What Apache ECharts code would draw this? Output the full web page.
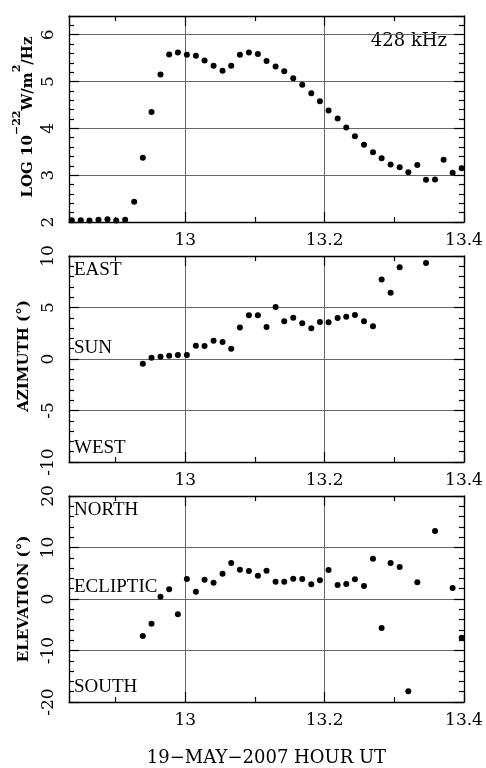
<!DOCTYPE html>
<html>
<head>
<meta charset="utf-8">
<script src="https://cdn.jsdelivr.net/npm/echarts@6/dist/echarts.min.js"></script>
<style>html,body{margin:0;padding:0;background:#fff}#c{width:486px;height:768px}</style>
</head>
<body>
<div id="c"></div>
<script>
// ---- data (hours UT) ----
const topHours = [12.8373,12.8502,12.8627,12.8756,12.8885,12.9010,12.9139,12.9268,12.9392,12.9517,12.9646,12.9770,12.9895,13.0024,13.0153,13.0278,13.0407,13.0536,13.0660,13.0785,13.0914,13.1043,13.1167,13.1297,13.1421,13.1550,13.1679,13.1809,13.1933,13.2057,13.2187,13.2311,13.2435,13.2565,13.2694,13.2818,13.2947,13.3077,13.3201,13.3330,13.3455,13.3584,13.3708,13.3837,13.3967];
const topLog = [2.04,2.04,2.03,2.05,2.06,2.03,2.05,2.43,3.37,4.35,5.15,5.58,5.62,5.57,5.55,5.45,5.34,5.23,5.34,5.57,5.62,5.59,5.44,5.32,5.22,5.07,4.93,4.75,4.58,4.38,4.21,4.02,3.83,3.65,3.49,3.36,3.23,3.17,3.06,3.22,2.90,2.91,3.33,3.05,3.15];

const aziHours = [12.9392,12.9517,12.9646,12.9770,12.9895,13.0024,13.0153,13.0278,13.0407,13.0536,13.0660,13.0785,13.0914,13.1043,13.1167,13.1297,13.1421,13.1550,13.1679,13.1809,13.1933,13.2057,13.2187,13.2311,13.2435,13.2565,13.2694,13.2818,13.2947,13.3077,13.3455];
const aziDeg = [-0.45,0.13,0.23,0.32,0.39,0.39,1.29,1.26,1.78,1.65,1.00,3.07,4.24,4.24,3.11,5.05,3.66,4.01,3.46,2.98,3.59,3.56,3.98,4.11,4.27,3.66,3.17,7.73,6.44,8.90,9.32];

const eleHours = [12.9392,12.9517,12.9646,12.9770,12.9895,13.0024,13.0153,13.0278,13.0407,13.0536,13.0660,13.0785,13.0914,13.1043,13.1167,13.1297,13.1421,13.1550,13.1679,13.1809,13.1933,13.2057,13.2187,13.2311,13.2435,13.2565,13.2694,13.2818,13.2947,13.3077,13.3201,13.3330,13.3584,13.3837,13.3967];
const eleDeg = [-7.18,-4.79,0.45,1.88,-2.98,3.88,1.42,3.75,3.17,4.92,6.99,5.70,5.44,4.53,5.50,3.37,3.37,3.95,3.88,2.85,3.62,5.63,2.72,2.91,3.82,2.52,7.83,-5.63,6.99,6.21,-17.93,3.24,13.20,2.14,-7.51];

// ---- tick labels ----
const xTickLabels = [13, 13.2, 13.4];
const yTicksTop = [2, 3, 4, 5, 6];
const yTicksAzi = [-10, -5, 0, 5, 10];
const yTicksEle = [-20, -10, 0, 10, 20];

const xMin = 12.8333, xMax = 13.4;

const FONT = 'DejaVu Serif';
const ANN = 'Liberation Serif';

const grids = [16, 256, 496].map(t => ({left: 69, right: 22, top: t, height: 206}));

function axLine() { return {show: true, onZero: false, lineStyle: {color: '#000', width: 1.3}}; }
function tick() { return {show: true, inside: true, length: 10, lineStyle: {color: '#000', width: 1.2}}; }
function mtick(n) { return {show: true, splitNumber: n, length: 5, lineStyle: {color: '#000', width: 1.2}}; }

function xAxes(gi) {
  const bottom = {
    type: 'value', gridIndex: gi, min: xMin, max: xMax, splitNumber: 3, position: 'bottom',
    axisLine: axLine(), axisTick: tick(), minorTick: mtick(2),
    splitLine: {show: true, lineStyle: {color: '#666', width: 1}},
    axisLabel: {customValues: xTickLabels, margin: 10, color: '#000', fontFamily: FONT, fontSize: 17}
  };
  const top = {
    type: 'value', gridIndex: gi, min: xMin, max: xMax, splitNumber: 3, position: 'top',
    axisLine: axLine(), axisTick: tick(), minorTick: mtick(2),
    splitLine: {show: false}, axisLabel: {show: false}
  };
  return [bottom, top];
}
function yAxes(gi, min, max, labels) {
  const left = {
    type: 'value', gridIndex: gi, min, max, splitNumber: 4, position: 'left',
    axisLine: axLine(), axisTick: tick(), minorTick: mtick(5),
    splitLine: {show: true, lineStyle: {color: '#666', width: 1}},
    axisLabel: {customValues: labels, rotate: 90, margin: 12, color: '#000', fontFamily: FONT, fontSize: 17}
  };
  const right = {
    type: 'value', gridIndex: gi, min, max, splitNumber: 4, position: 'right',
    axisLine: axLine(), axisTick: tick(), minorTick: mtick(5),
    splitLine: {show: false}, axisLabel: {show: false}
  };
  return [left, right];
}

const richTop = {
  n: {fontFamily: FONT, fontSize: 15, fontWeight: 'bold', fill: '#000', lineHeight: 24, verticalAlign: 'bottom'},
  s: {fontFamily: FONT, fontSize: 11, fontWeight: 'bold', fill: '#000', lineHeight: 24, verticalAlign: 'top'}
};
const nameFont = 'bold 15px "' + FONT + '"';
const annFont = '19px "' + ANN + '"';

const option = {
  animation: false,
  backgroundColor: '#fff',
  grid: grids,
  xAxis: [...xAxes(0), ...xAxes(1), ...xAxes(2)],
  yAxis: [
    ...yAxes(0, 2, 6.4, yTicksTop),
    ...yAxes(1, -10, 10, yTicksAzi),
    ...yAxes(2, -20, 20, yTicksEle)
  ],
  series: [
    {type: 'scatter', xAxisIndex: 0, yAxisIndex: 0, symbolSize: 6,
      itemStyle: {color: '#000', opacity: 1}, data: topHours.map((h, i) => [h, topLog[i]])},
    {type: 'scatter', xAxisIndex: 2, yAxisIndex: 2, symbolSize: 6,
      itemStyle: {color: '#000', opacity: 1}, data: aziHours.map((h, i) => [h, aziDeg[i]])},
    {type: 'scatter', xAxisIndex: 4, yAxisIndex: 4, symbolSize: 6,
      itemStyle: {color: '#000', opacity: 1}, data: eleHours.map((h, i) => [h, eleDeg[i]])}
  ],
  graphic: [
    {type: 'text', x: 24, y: 117, rotation: Math.PI / 2,
      style: {text: '{n|LOG 10}{s|\u221222}{n|W/m}{s|2}{n|/Hz}', rich: richTop, align: 'center', verticalAlign: 'middle', fill: '#000'}},
    {type: 'text', x: 24, y: 356, rotation: Math.PI / 2,
      style: {text: 'AZIMUTH (\u00b0)', font: nameFont, align: 'center', verticalAlign: 'middle', fill: '#000'}},
    {type: 'text', x: 24, y: 599, rotation: Math.PI / 2,
      style: {text: 'ELEVATION (\u00b0)', font: nameFont, align: 'center', verticalAlign: 'middle', fill: '#000'}},
    {type: 'text', x: 266.5, y: 758,
      style: {text: '19\u2212MAY\u22122007 HOUR UT', font: '18px "' + FONT + '"', align: 'center', verticalAlign: 'middle', fill: '#000'}},
    {type: 'text', right: 39, top: 32, style: {text: '428 kHz', font: '18px "' + FONT + '"', fill: '#000'}},
    {type: 'text', x: 74, y: 270, style: {text: 'EAST', font: annFont, fill: '#000', verticalAlign: 'middle'}},
    {type: 'text', x: 74, y: 348, style: {text: 'SUN', font: annFont, fill: '#000', verticalAlign: 'middle'}},
    {type: 'text', x: 74, y: 448.5, style: {text: 'WEST', font: annFont, fill: '#000', verticalAlign: 'middle'}},
    {type: 'text', x: 74, y: 510, style: {text: 'NORTH', font: annFont, fill: '#000', verticalAlign: 'middle'}},
    {type: 'text', x: 74, y: 587.5, style: {text: 'ECLIPTIC', font: annFont, fill: '#000', verticalAlign: 'middle'}},
    {type: 'text', x: 74, y: 687.5, style: {text: 'SOUTH', font: annFont, fill: '#000', verticalAlign: 'middle'}}
  ]
};

const chart = echarts.init(document.getElementById('c'), null, {renderer: 'canvas'});
chart.setOption(option);
</script>
</body>
</html>
